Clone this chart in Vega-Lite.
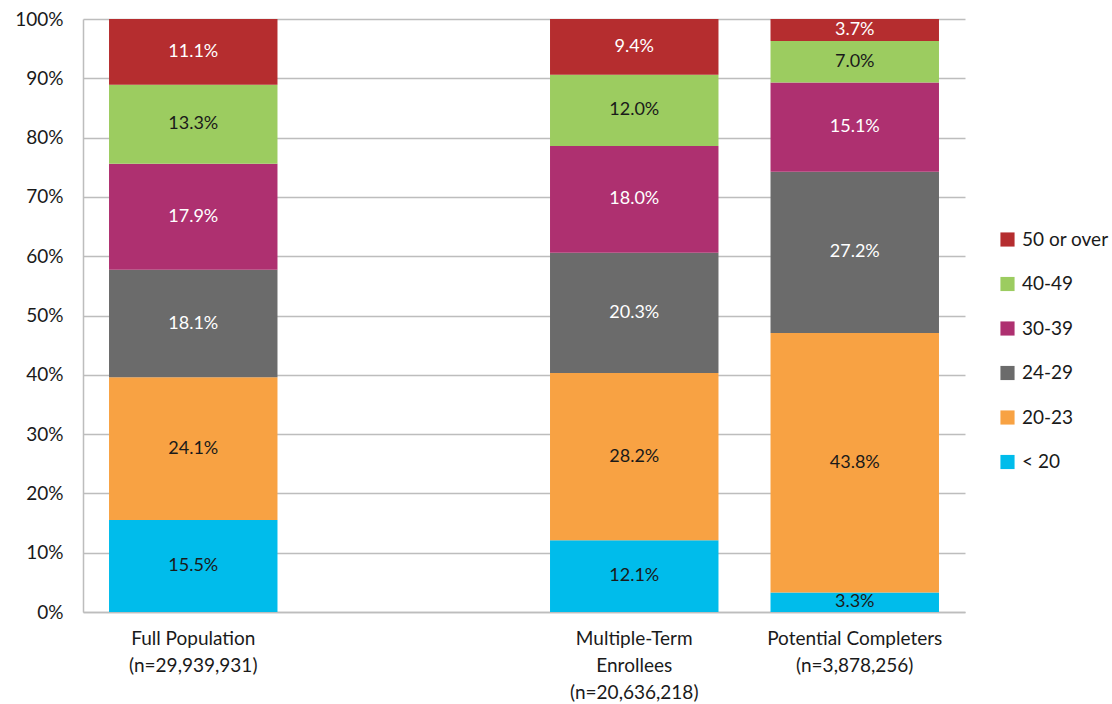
{
  "$schema": "https://vega.github.io/schema/vega-lite/v6.json",
  "width": 882,
  "height": 593,
  "autosize": {"type": "none"},
  "padding": {"left": 83, "top": 19, "right": 147, "bottom": 92},
  "background": "white",
  "config": {
    "view": {"stroke": null},
    "font": "Lato",
    "axis": {"labelFont": "Lato", "labelColor": "#1a1a1a", "labelFontSize": 19}
  },
  "data": {
    "values": [
      {"grp": "Full Population|(n=29,939,931)", "age": "< 20", "k": 1, "pct": 15.5},
      {"grp": "Full Population|(n=29,939,931)", "age": "20-23", "k": 2, "pct": 24.1},
      {"grp": "Full Population|(n=29,939,931)", "age": "24-29", "k": 3, "pct": 18.1},
      {"grp": "Full Population|(n=29,939,931)", "age": "30-39", "k": 4, "pct": 17.9},
      {"grp": "Full Population|(n=29,939,931)", "age": "40-49", "k": 5, "pct": 13.3},
      {"grp": "Full Population|(n=29,939,931)", "age": "50 or over", "k": 6, "pct": 11.1},
      {"grp": "Multiple-Term|Enrollees|(n=20,636,218)", "age": "< 20", "k": 1, "pct": 12.1},
      {"grp": "Multiple-Term|Enrollees|(n=20,636,218)", "age": "20-23", "k": 2, "pct": 28.2},
      {"grp": "Multiple-Term|Enrollees|(n=20,636,218)", "age": "24-29", "k": 3, "pct": 20.3},
      {"grp": "Multiple-Term|Enrollees|(n=20,636,218)", "age": "30-39", "k": 4, "pct": 18.0},
      {"grp": "Multiple-Term|Enrollees|(n=20,636,218)", "age": "40-49", "k": 5, "pct": 12.0},
      {"grp": "Multiple-Term|Enrollees|(n=20,636,218)", "age": "50 or over", "k": 6, "pct": 9.4},
      {"grp": "Potential Completers|(n=3,878,256)", "age": "< 20", "k": 1, "pct": 3.3},
      {"grp": "Potential Completers|(n=3,878,256)", "age": "20-23", "k": 2, "pct": 43.8},
      {"grp": "Potential Completers|(n=3,878,256)", "age": "24-29", "k": 3, "pct": 27.2},
      {"grp": "Potential Completers|(n=3,878,256)", "age": "30-39", "k": 4, "pct": 15.1},
      {"grp": "Potential Completers|(n=3,878,256)", "age": "40-49", "k": 5, "pct": 7.0},
      {"grp": "Potential Completers|(n=3,878,256)", "age": "50 or over", "k": 6, "pct": 3.7}
    ]
  },
  "transform": [
    {"stack": "pct", "groupby": ["grp"], "sort": [{"field": "k", "order": "ascending"}], "as": ["y0", "y1"], "offset": "normalize"},
    {"calculate": "(datum.y0 + datum.y1) / 2", "as": "mid"},
    {"calculate": "format(datum.pct, '.1f') + '%'", "as": "lbl"}
  ],
  "encoding": {
    "x": {
      "field": "grp",
      "type": "nominal",
      "title": null,
      "scale": {
        "domain": ["Full Population|(n=29,939,931)", "gap", "Multiple-Term|Enrollees|(n=20,636,218)", "Potential Completers|(n=3,878,256)"],
        "paddingInner": 0.236,
        "paddingOuter": 0.118
      },
      "axis": {
        "labelAngle": 0,
        "labelExpr": "datum.value == 'gap' ? '' : split(datum.value, '|')",
        "labelLineHeight": 27,
        "labelPadding": 17,
        "labelBaseline": "top",
        "ticks": false,
        "domainColor": "#bdbdbd",
        "domainWidth": 1.5
      }
    }
  },
  "layer": [
    {
      "mark": {"type": "bar"},
      "encoding": {
        "y": {
          "field": "y0",
          "type": "quantitative",
          "title": null,
          "scale": {"domain": [0, 1], "nice": false},
          "axis": {
            "format": ".0%",
            "values": [0, 0.1, 0.2, 0.3, 0.4, 0.5, 0.6, 0.7, 0.8, 0.9, 1],
            "grid": true,
            "gridColor": "#bdbdbd",
            "gridWidth": 1.5,
            "domain": true,
            "domainColor": "#bdbdbd",
            "domainWidth": 1.5,
            "ticks": false,
            "labelPadding": 20
          }
        },
        "y2": {"field": "y1"},
        "color": {
          "field": "age",
          "type": "nominal",
          "scale": {
            "domain": ["50 or over", "40-49", "30-39", "24-29", "20-23", "< 20"],
            "range": ["#B52D2F", "#9CCC60", "#AE3070", "#6B6B6B", "#F8A243", "#00BCEB"]
          },
          "legend": {
            "title": null,
            "orient": "none",
            "legendX": 915,
            "legendY": 211,
            "symbolType": "square",
            "symbolSize": 200,
            "symbolStrokeWidth": 0,
            "labelFontSize": 19,
            "labelFont": "Lato",
            "labelColor": "#1a1a1a",
            "rowPadding": 24.5,
            "labelOffset": 5
          }
        }
      }
    },
    {
      "mark": {"type": "text", "fontSize": 18, "font": "Lato", "baseline": "middle"},
      "encoding": {
        "y": {"field": "mid", "type": "quantitative"},
        "text": {"field": "lbl", "type": "nominal"},
        "color": {
          "condition": {"test": "datum.k == 3 || datum.k == 4 || datum.k == 6", "value": "white"},
          "value": "#1a1a1a"
        }
      }
    }
  ]
}
